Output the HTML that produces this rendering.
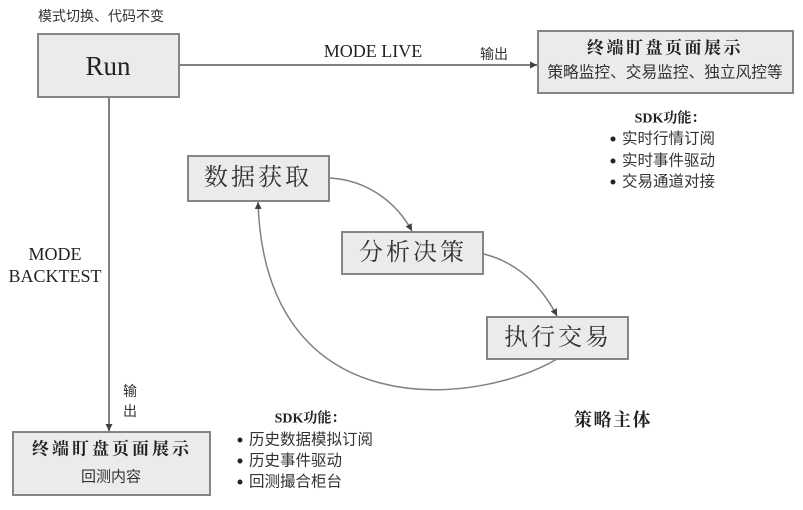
<!DOCTYPE html>
<html>
<head>
<meta charset="utf-8">
<style>
  html, body { margin: 0; padding: 0; background: #ffffff; }
  body { width: 803px; height: 510px; overflow: hidden; }
  svg { display: block; }
  .sans { font-family: "Liberation Sans", "Noto Sans CJK SC", sans-serif; }
  .serif { font-family: "Liberation Serif", "Noto Serif CJK SC", serif; }
</style>
</head>
<body>
<svg width="803" height="510" viewBox="0 0 803 510" xmlns="http://www.w3.org/2000/svg">
  <defs>
    <marker id="ah" viewBox="0 0 10 10" refX="10" refY="5" markerWidth="7" markerHeight="7" markerUnits="userSpaceOnUse" orient="auto">
      <path d="M0,0 L10,5 L0,10 z" fill="#404040"/>
    </marker>
  </defs>

  <!-- top-left caption -->
  <text x="38" y="16" class="sans" font-size="14" fill="#333" dominant-baseline="central">模式切换、代码不变</text>

  <!-- Run box -->
  <rect x="38" y="34" width="141" height="63" fill="#ebebeb" stroke="#858585" stroke-width="2"/>
  <text x="108" y="66" class="serif" font-size="27" fill="#222" text-anchor="middle" dominant-baseline="central">Run</text>

  <!-- MODE LIVE connector -->
  <line x1="179" y1="65" x2="537" y2="65" stroke="#808080" stroke-width="2" marker-end="url(#ah)"/>
  <text x="373" y="51" class="serif" font-size="18" fill="#222" text-anchor="middle" dominant-baseline="central">MODE LIVE</text>
  <text x="494" y="54" class="sans" font-size="14" fill="#333" text-anchor="middle" dominant-baseline="central">输出</text>

  <!-- Top-right box -->
  <rect x="538" y="31" width="255" height="62" fill="#ebebeb" stroke="#858585" stroke-width="2"/>
  <text x="665" y="48" class="serif" font-size="17" font-weight="bold" letter-spacing="2.5" fill="#222" text-anchor="middle" dominant-baseline="central">终端盯盘页面展示</text>
  <text x="665" y="73" class="sans" font-size="15.7" fill="#333" text-anchor="middle" dominant-baseline="central">策略监控、交易监控、独立风控等</text>

  <!-- SDK top-right -->
  <text x="670" y="119" class="serif" font-size="14" font-weight="bold" fill="#222" text-anchor="middle" dominant-baseline="central">SDK功能：</text>
  <circle cx="613" cy="139" r="2.5" fill="#222"/>
  <circle cx="613" cy="161" r="2.5" fill="#222"/>
  <circle cx="613" cy="182" r="2.5" fill="#222"/>
  <text x="622" y="139" class="sans" font-size="15.5" fill="#333" dominant-baseline="central">实时行情订阅</text>
  <text x="622" y="161" class="sans" font-size="15.5" fill="#333" dominant-baseline="central">实时事件驱动</text>
  <text x="622" y="182" class="sans" font-size="15.5" fill="#333" dominant-baseline="central">交易通道对接</text>

  <!-- MODE BACKTEST connector -->
  <line x1="109" y1="97" x2="109" y2="431" stroke="#808080" stroke-width="2" marker-end="url(#ah)"/>
  <text x="55" y="254" class="serif" font-size="18" fill="#222" text-anchor="middle" dominant-baseline="central">MODE</text>
  <text x="55" y="276" class="serif" font-size="18" fill="#222" text-anchor="middle" dominant-baseline="central">BACKTEST</text>
  <text x="130" y="391" class="sans" font-size="14" fill="#333" text-anchor="middle" dominant-baseline="central">输</text>
  <text x="130" y="411" class="sans" font-size="14" fill="#333" text-anchor="middle" dominant-baseline="central">出</text>

  <!-- Bottom-left box -->
  <rect x="13" y="432" width="197" height="63" fill="#ebebeb" stroke="#858585" stroke-width="2"/>
  <text x="112" y="449" class="serif" font-size="17" font-weight="bold" letter-spacing="3" fill="#222" text-anchor="middle" dominant-baseline="central">终端盯盘页面展示</text>
  <text x="111" y="477" class="sans" font-size="15" fill="#333" text-anchor="middle" dominant-baseline="central">回测内容</text>

  <!-- SDK bottom -->
  <text x="310" y="419" class="serif" font-size="14" font-weight="bold" fill="#222" text-anchor="middle" dominant-baseline="central">SDK功能：</text>
  <circle cx="240" cy="440" r="2.5" fill="#222"/>
  <circle cx="240" cy="461" r="2.5" fill="#222"/>
  <circle cx="240" cy="482" r="2.5" fill="#222"/>
  <text x="249" y="440" class="sans" font-size="15.5" fill="#333" dominant-baseline="central">历史数据模拟订阅</text>
  <text x="249" y="461" class="sans" font-size="15.5" fill="#333" dominant-baseline="central">历史事件驱动</text>
  <text x="249" y="482" class="sans" font-size="15.5" fill="#333" dominant-baseline="central">回测撮合柜台</text>

  <!-- Cycle boxes -->
  <rect x="188" y="156" width="141" height="45" fill="#ebebeb" stroke="#858585" stroke-width="2"/>
  <text x="258" y="178" class="serif" font-size="24" letter-spacing="3" fill="#333" text-anchor="middle" dominant-baseline="central">数据获取</text>

  <rect x="342" y="232" width="141" height="42" fill="#ebebeb" stroke="#858585" stroke-width="2"/>
  <text x="413" y="253" class="serif" font-size="24" letter-spacing="3" fill="#333" text-anchor="middle" dominant-baseline="central">分析决策</text>

  <rect x="487" y="317" width="141" height="42" fill="#ebebeb" stroke="#858585" stroke-width="2"/>
  <text x="558" y="338" class="serif" font-size="24" letter-spacing="3" fill="#333" text-anchor="middle" dominant-baseline="central">执行交易</text>

  <!-- Cycle connectors -->
  <path d="M330,178 C365,180 395,200 412,231" fill="none" stroke="#808080" stroke-width="1.5" marker-end="url(#ah)"/>
  <path d="M484,254 C515,262 540,283 557,316" fill="none" stroke="#808080" stroke-width="1.5" marker-end="url(#ah)"/>
  <path d="M557,359 C480,405 265,430 258,202" fill="none" stroke="#808080" stroke-width="1.5" marker-end="url(#ah)"/>

  <!-- 策略主体 -->
  <text x="613" y="420" class="serif" font-size="18" font-weight="bold" letter-spacing="1.5" fill="#222" text-anchor="middle" dominant-baseline="central">策略主体</text>
</svg>
</body>
</html>
